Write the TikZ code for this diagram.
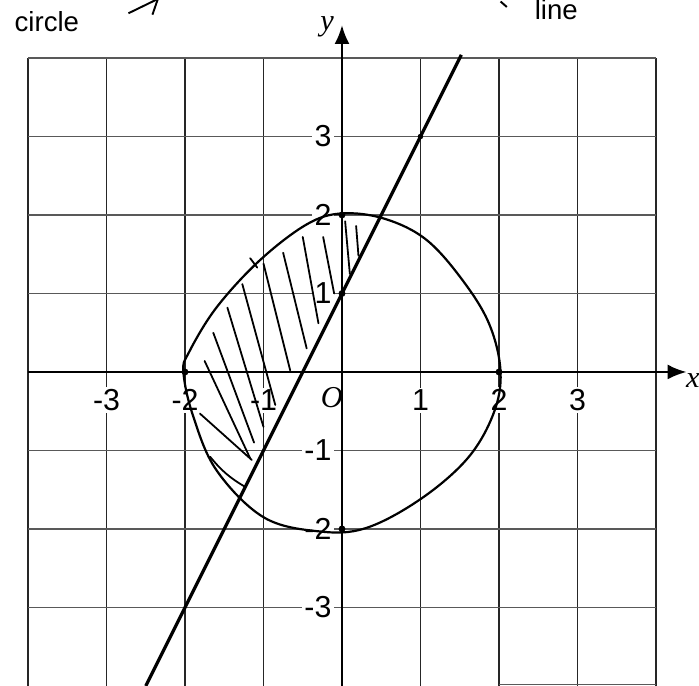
\documentclass[tikz,border=0pt]{standalone}
\usepackage{fontspec}
\setmainfont{Liberation Sans}
\newfontfamily\serifit{Liberation Serif}
\usetikzlibrary{arrows.meta}
\tikzset{
  gridv/.style={line width=0.5pt, black!85},
  gridh/.style={line width=0.5pt, black!65},
  axisline/.style={line width=0.9pt, -{Latex[length=2.4mm,width=1.9mm]}},
  graphline/.style={line width=1.2pt},
  circ/.style={line width=0.8pt},
  hatch/.style={line width=0.65pt, line cap=round},
  ticklab/.style={fill=white, inner sep=0.8pt, font=\fontsize{11}{11}\selectfont},
  axlab/.style={inner sep=0pt, font=\serifit\itshape\fontsize{11}{11}\selectfont},
  note/.style={inner sep=0pt, font=\fontsize{10}{10}\selectfont},
  ptdot/.style={fill=black, inner sep=0pt, minimum size=2.5pt, circle}
}
\begin{document}
\begin{tikzpicture}
\useasboundingbox (-4.357,-4.0) rectangle (4.548,4.739);
\clip (-4.357,-4.0) rectangle (4.548,4.739);
% grid
\foreach \k in {-4,...,4} { \draw[gridv] (\k,-4.0) -- (\k,4); }
\foreach \k in {-3,...,4} { \draw[gridh] (-4,\k) -- (4,\k); }
\draw[gridh] (2,-3.985) -- (4,-3.985);
% tick labels
\foreach \k/\n in {-3/xm3,-2/xm2,-1/xm1,1/xp1,2/xp2,3/xp3} {
  \node[ticklab] (\n) at (\k,-0.36) {\k};
}
\foreach \k/\n in {-3/ym3,-2/ym2,-1/ym1,1/yp1,2/yp2,3/yp3} {
  \node[ticklab, anchor=east] (\n) at (-0.1,\k) {\k};
}
\node[axlab] (orig) at (-0.13,-0.32) {O};
% axes
\coordinate (xs) at (-4,0);
\coordinate (xe) at (4.39,0);
\coordinate (ys) at (0,-4);
\coordinate (ye) at (0,4.42);
\draw[axisline] (xs) -- (xe);
\draw[axisline] (ys) -- (ye);
\node[axlab] (xlab) at (4.47,-0.11) {x};
\node[axlab] (ylab) at (-0.19,4.4) {y};
% hand drawn circle
\draw[circ] plot[smooth cycle, tension=0.6] coordinates {
(2.02,0) (1.88,0.6) (1.55,1.15) (1.08,1.68) (0.55,1.95) (0,2.02)
(-0.45,1.88) (-1.05,1.42) (-1.6,0.82) (-1.95,0.25) (-2.02,0)
(-1.9,-0.55) (-1.6,-1.25) (-1.0,-1.85) (-0.3,-2.03) (0.3,-1.99)
(1.0,-1.62) (1.6,-1.1) (1.93,-0.53)};
% line y = 2x + 1
\coordinate (lb) at (-2.5,-4);
\coordinate (lt) at (1.52,4.04);
\draw[graphline] (lb) -- (lt);
% marked points
\node[ptdot] (p1) at (-2,0) {};
\node[ptdot] (p2) at (2,0) {};
\node[ptdot] (p3) at (0,2) {};
\node[ptdot] (p4) at (0,-2) {};
\node[ptdot] (p5) at (0,1) {};
\node[ptdot, minimum size=2pt] (p6) at (1,3) {};
% hatching
\draw[hatch] (0.04,1.92) -- (0.1,1.25);
\draw[hatch] (0.18,1.86) -- (0.21,1.48);
\draw[hatch] (-0.24,1.72) -- (-0.1,1.0);
\draw[hatch] (-0.5,1.72) -- (-0.3,0.62);
\draw[hatch] (-0.75,1.52) -- (-0.45,0.3);
\draw[hatch] (-1.0,1.38) -- (-0.66,0.02);
\draw[hatch] (-1.27,1.12) -- (-0.85,-0.42);
\draw[hatch] (-1.46,0.82) -- (-1.0,-0.7);
\draw[hatch] (-1.64,0.5) -- (-1.12,-0.9);
\draw[hatch] (-1.75,0.14) -- (-1.17,-1.1);
\draw[hatch] (-1.81,-0.53) -- (-1.15,-1.12);
\draw[hatch] (-1.68,-1.08) to[bend right=10] (-1.24,-1.46);
\draw[hatch] (-1.17,1.45) -- (-1.08,1.33);
% annotations
\node[note] (ncircle) at (-3.76,4.46) {circle};
\coordinate (a1) at (-2.72,4.57);
\coordinate (a2) at (-2.33,4.76);
\draw[line width=0.7pt, -{Straight Barb[length=1.5mm]}] (a1) -- (a2);
\coordinate (b1) at (2.02,4.72);
\coordinate (b2) at (2.1,4.65);
\draw[line width=0.7pt] (b1) -- (b2);
\node[note] (nline) at (2.73,4.62) {line};
\end{tikzpicture}
\end{document}
